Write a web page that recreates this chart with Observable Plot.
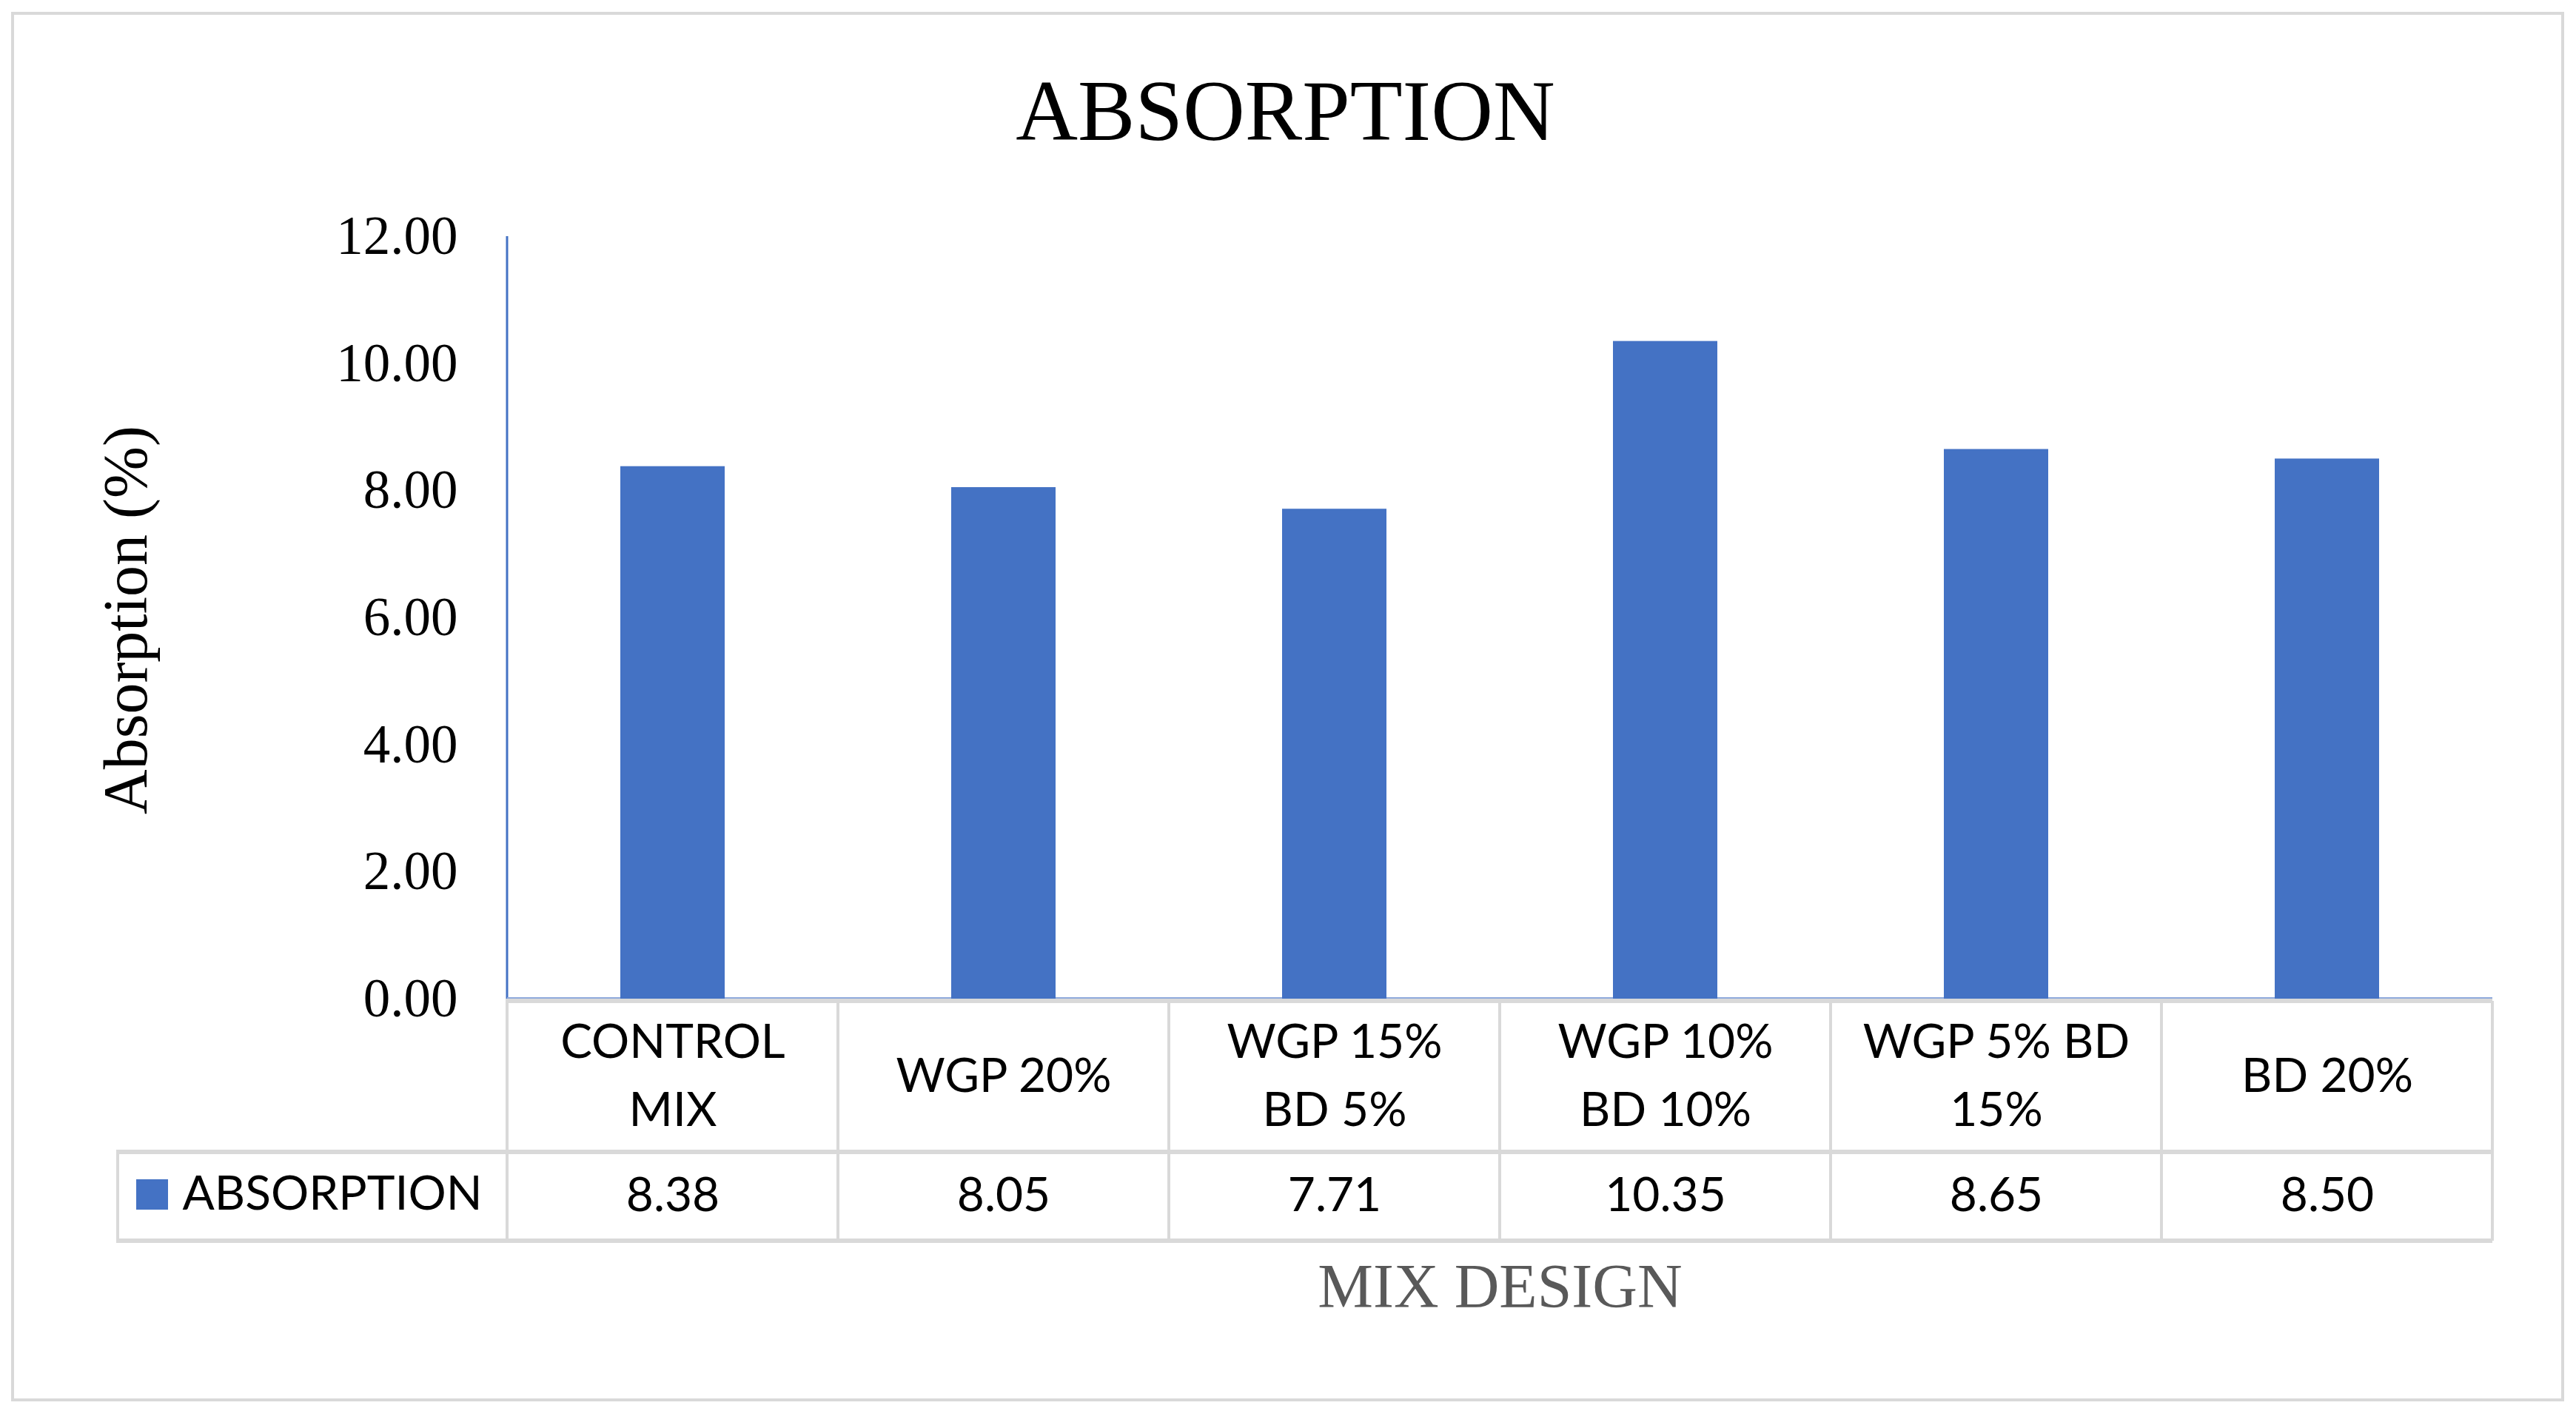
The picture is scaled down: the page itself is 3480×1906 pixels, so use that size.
<!DOCTYPE html>
<html>
<head>
<meta charset="utf-8">
<script src="https://cdn.jsdelivr.net/npm/d3@7"></script>
<script src="https://cdn.jsdelivr.net/npm/@observablehq/plot@0.6"></script>
<style>
  html, body { margin: 0; padding: 0; background: #fff; }
  #chart svg { display: block; }
</style>
</head>
<body>
<div id="chart"></div>
<script>
// ---- data ----
const categories = ["CONTROL MIX", "WGP 20%", "WGP 15% BD 5%", "WGP 10% BD 10%", "WGP 5% BD 15%", "BD 20%"];
const categoryLabels = ["CONTROL\nMIX", "WGP 20%", "WGP 15%\nBD 5%", "WGP 10%\nBD 10%", "WGP 5% BD\n15%", "BD 20%"];
const absorption = [8.38, 8.05, 7.71, 10.35, 8.65, 8.50];
const yTicks = [0, 2, 4, 6, 8, 10, 12];
const seriesName = "ABSORPTION";
const chartTitle = "ABSORPTION";
const yTitle = "Absorption (%)";
const xTitle = "MIX DESIGN";

const data = categories.map((c, i) => ({mix: c, label: categoryLabels[i], value: absorption[i]}));

// ---- style ----
const barColor = "#4472C4";
const gridColor = "#D9D9D9";
const serif = "Liberation Serif";
const sans = "Lato";

const W = 3480, H = 1906;
const ML = 685, MR = 113, MT = 319, MB = 557;

// table grid / frame drawn through the plot's scales
function tableGrid(index, scales, values, dims) {
  const {width, height, marginLeft, marginRight} = dims;
  const x = scales.x, y = scales.y;
  const n = categories.length;
  const step = typeof x.step === "function" ? x.step() : (width - marginLeft - marginRight) / n;
  const bw = typeof x.bandwidth === "function" ? x.bandwidth() : 0;
  const y0 = y(0);
  const right = width - marginRight;
  const legendLeft = marginLeft - 526;
  const g = d3.create("svg:g");
  // outer chart border
  g.append("rect").attr("x", 17).attr("y", 18).attr("width", width - 35).attr("height", height - 33)
    .attr("fill", "none").attr("stroke", gridColor).attr("stroke-width", 4);
  // y axis line
  g.append("line").attr("x1", marginLeft).attr("x2", marginLeft).attr("y1", y(12)).attr("y2", y0)
    .attr("stroke", barColor).attr("stroke-width", 3);
  // x axis line
  g.append("line").attr("x1", marginLeft).attr("x2", right).attr("y1", y0 - 1).attr("y2", y0 - 1)
    .attr("stroke", "#8FAADC").attr("stroke-width", 2);
  const hl = (x1, yy, sw) => g.append("line").attr("x1", x1).attr("x2", right).attr("y1", yy).attr("y2", yy)
    .attr("stroke", gridColor).attr("stroke-width", sw);
  hl(marginLeft - 2, y0 + 3, 6);
  hl(legendLeft - 2, y0 + 207, 6);
  hl(legendLeft - 2, y0 + 327, 6);
  // column edges
  categories.forEach((c, i) => {
    const left = x(c) + bw / 2 - step / 2;
    g.append("line").attr("x1", left).attr("x2", left).attr("y1", y0 + 3).attr("y2", y0 + 327)
      .attr("stroke", gridColor).attr("stroke-width", 4);
    if (i === n - 1) {
      const r = left + step;
      g.append("line").attr("x1", r).attr("x2", r).attr("y1", y0 + 3).attr("y2", y0 + 327)
        .attr("stroke", gridColor).attr("stroke-width", 4);
    }
  });
  g.append("line").attr("x1", legendLeft).attr("x2", legendLeft).attr("y1", y0 + 207).attr("y2", y0 + 327)
    .attr("stroke", gridColor).attr("stroke-width", 4);
  // legend swatch
  g.append("rect").attr("x", marginLeft - 501).attr("y", y0 + 244).attr("width", 43).attr("height", 41)
    .attr("fill", barColor);
  return g.node();
}

const chart = Plot.plot({
  width: W,
  height: H,
  marginLeft: ML,
  marginRight: MR,
  marginTop: MT,
  marginBottom: MB,
  style: {fontFamily: serif, fontSize: "73px", color: "#000", background: "#fff"},
  x: {domain: categories, paddingInner: 0.685, paddingOuter: 0.3425, axis: null},
  y: {domain: [0, 12], ticks: yTicks, tickFormat: d3.format(".2f"), tickSize: 0, tickPadding: 67, label: null},
  marks: [
    tableGrid,
    Plot.barY(data, {x: "mix", y: "value", fill: barColor}),
    Plot.text(data, {x: "mix", frameAnchor: "bottom", dy: 96, text: "label", fontFamily: sans, fontSize: 64,
      lineHeight: 1.44, lineAnchor: "middle", fill: "#000"}),
    Plot.text(data, {x: "mix", frameAnchor: "bottom", dy: 266, text: d => d.value.toFixed(2), fontFamily: sans,
      fontSize: 64, lineAnchor: "middle", fill: "#000"}),
    Plot.text([seriesName], {frameAnchor: "bottom-left", dx: -439, dy: 264, text: d => d, textAnchor: "start",
      fontFamily: sans, fontSize: 64, lineAnchor: "middle", fill: "#000"}),
    Plot.text([chartTitle], {frameAnchor: "top", dx: -290, dy: -168, text: d => d, fontFamily: serif,
      fontSize: 116, lineAnchor: "middle", textAnchor: "middle", fill: "#000"}),
    Plot.text([yTitle], {frameAnchor: "left", dx: -514, dy: 3, rotate: -90, text: d => d, fontFamily: serif,
      fontSize: 84, lineAnchor: "middle", textAnchor: "middle", fill: "#000"}),
    Plot.text([xTitle], {frameAnchor: "bottom", dy: 390, text: d => d, fontFamily: serif,
      fontSize: 84, lineAnchor: "middle", textAnchor: "middle", fill: "#595959"})
  ]
});
document.getElementById("chart").append(chart);
</script>
</body>
</html>
